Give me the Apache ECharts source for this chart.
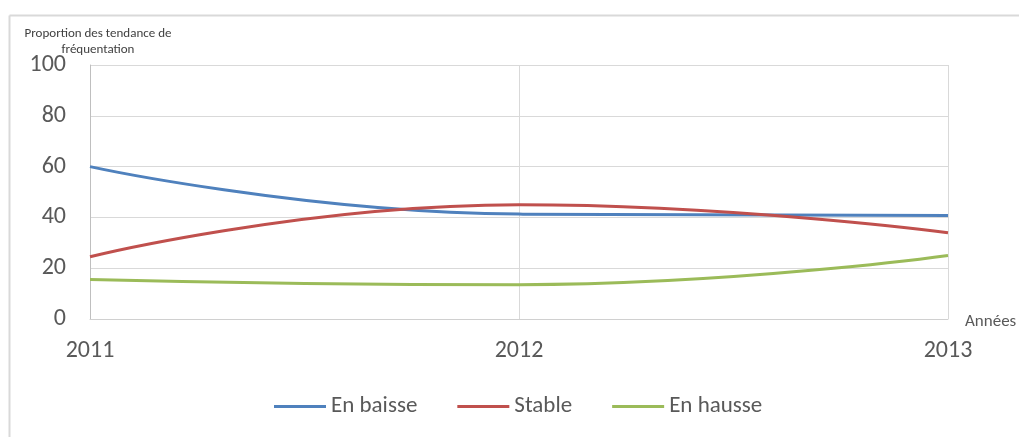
<!DOCTYPE html>
<html>
<head>
<meta charset="utf-8">
<title>Tendance de fréquentation</title>
<script src="https://cdn.jsdelivr.net/npm/echarts@6/dist/echarts.min.js"></script>
<style>
  html, body { margin: 0; padding: 0; background: #fff; }
  #chart { width: 1019px; height: 437px; }
</style>
</head>
<body>
<div id="chart"></div>
<script>
// Years on the horizontal axis
const years = ['2011', '2012', '2013'];
// Share of each attendance trend (%)
const enBaisse = [60, 41.3, 40.7];
const stable = [24.5, 45, 34];
const enHausse = [15.6, 13.5, 25];
// Vertical axis scale
const yMin = 0, yMax = 100, yStep = 20;

const textColor = '#595959';
const fontFamily = 'Carlito, "Open Sans", "Liberation Sans", sans-serif';

const chart = echarts.init(document.getElementById('chart'));

function lineSeries(name, data, color) {
  return {
    name: name,
    type: 'line',
    data: data,
    smooth: 0.5,
    symbol: 'none',
    lineStyle: { width: 3, color: color },
    itemStyle: { color: color }
  };
}

chart.setOption({
  animation: false,
  textStyle: { fontFamily: fontFamily },
  title: {
    text: 'Proportion des tendance de\nfréquentation',
    left: 93,
    top: 21,
    textAlign: 'center',
    textStyle: { fontSize: 13, fontWeight: 'normal', color: '#404040', lineHeight: 16, fontFamily: fontFamily }
  },
  legend: {
    bottom: 14,
    left: 269,
    icon: 'rect',
    itemWidth: 52,
    itemHeight: 3,
    itemGap: 40,
    textStyle: { fontSize: 23, color: textColor, padding: [0, 0, 0, 0], fontFamily: fontFamily },
    data: ['En baisse', 'Stable', 'En hausse']
  },
  grid: { left: 90, right: 71, top: 65, bottom: 118 },
  xAxis: {
    type: 'category',
    data: years,
    boundaryGap: false,
    axisLine: { lineStyle: { color: '#d0d0d0', width: 1 } },
    axisTick: { show: false },
    axisLabel: { fontSize: 24, color: textColor, margin: 20 },
    splitLine: { show: true, lineStyle: { color: '#d9d9d9', width: 1 } }
  },
  yAxis: {
    type: 'value',
    min: yMin,
    max: yMax,
    interval: yStep,
    axisLine: { show: true, lineStyle: { color: '#bfbfbf', width: 1 } },
    axisTick: { show: false },
    axisLabel: { fontSize: 24, color: textColor, margin: 24 },
    splitLine: { show: true, lineStyle: { color: '#d9d9d9', width: 1 } }
  },
  graphic: [
    // outer frame (top and left edges)
    { type: 'line', shape: { x1: 9.5, y1: 15.5, x2: 1019, y2: 15.5 }, style: { stroke: '#d9d9d9', lineWidth: 2 } },
    { type: 'line', shape: { x1: 9.5, y1: 15.5, x2: 9.5, y2: 437 }, style: { stroke: '#d9d9d9', lineWidth: 2 } },
    // horizontal axis title
    {
      type: 'text', left: 965, top: 313,
      style: { text: 'Années', fontSize: 17, fill: textColor, fontFamily: fontFamily }
    }
  ],
  series: [
    lineSeries('En baisse', enBaisse, '#4F81BD'),
    lineSeries('Stable', stable, '#C0504D'),
    lineSeries('En hausse', enHausse, '#9BBB59')
  ]
});
</script>
</body>
</html>
